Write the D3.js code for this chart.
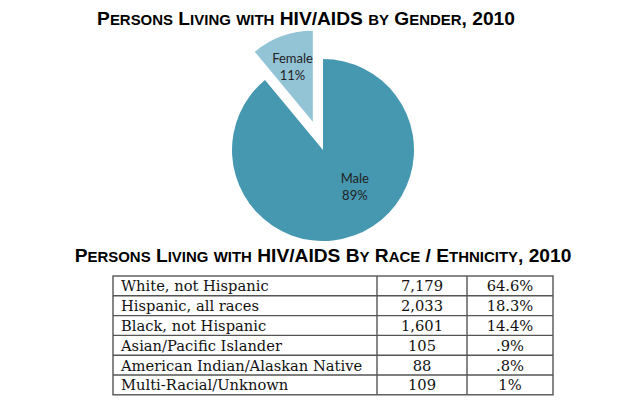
<!DOCTYPE html>
<html>
<head>
<meta charset="utf-8">
<script src="https://cdn.jsdelivr.net/npm/d3@7"></script>
<style>
  body { margin: 0; background: #fff; }
  svg { display: block; }
</style>
</head>
<body>
<div class="chart"></div>
<script>
var svgWidth = 630;
var svgHeight = 410;

// gender pie data
var genders = ["Male", "Female"];
var genderShares = [89, 11];

// race / ethnicity table data
var races = [
  "White, not Hispanic",
  "Hispanic, all races",
  "Black, not Hispanic",
  "Asian/Pacific Islander",
  "American Indian/Alaskan Native",
  "Multi-Racial/Unknown"
];
var raceCounts = ["7,179", "2,033", "1,601", "105", "88", "109"];
var racePercents = ["64.6%", "18.3%", "14.4%", ".9%", ".8%", "1%"];

var svg = d3.select(".chart")
  .append("svg")
  .attr("width", svgWidth)
  .attr("height", svgHeight);

// title with fake small caps: capitals full size, lowercase shrunk,
// then the whole thing scaled so it fills the wanted width
function smallCapsTitle(x, y, str, size, targetWidth) {
  var t = svg.append("text")
    .attr("x", x)
    .attr("y", y)
    .attr("text-anchor", "middle")
    .style("font-family", "'Liberation Sans', Arial, sans-serif")
    .style("font-weight", "bold")
    .style("fill", "#000");
  var parts = str.match(/([a-z]+|[^a-z]+)/g);
  parts.forEach(function(p) {
    var lower = /^[a-z]/.test(p);
    t.append("tspan")
      .attr("class", lower ? "sc" : "cap")
      .style("font-size", (lower ? size * 0.78 : size) + "px")
      .text(p.toUpperCase());
  });
  var w = t.node().getComputedTextLength();
  var k = targetWidth / w;
  t.selectAll("tspan.cap").style("font-size", (size * k) + "px");
  t.selectAll("tspan.sc").style("font-size", (size * 0.78 * k) + "px");
  return t;
}

smallCapsTitle(306, 25, "Persons Living with HIV/AIDS by Gender, 2010", 19, 418);
smallCapsTitle(323, 262, "Persons Living with HIV/AIDS By Race / Ethnicity, 2010", 20, 497);

// pie
var cx = 323, cy = 150, radius = 91;
var colors = d3.scaleOrdinal().domain(genders).range(["#4598b0", "#93c4d6"]);

var pie = d3.pie()
  .sort(null)
  .startAngle(0)
  .endAngle(2 * Math.PI)
  .value(function(d, i) { return genderShares[i]; });

var arcs = pie(genders);

var arc = d3.arc().innerRadius(0).outerRadius(radius);
var explode = { Female: 30, Male: 0 };
var labelRadius = { Female: 60, Male: 48 };
var labelAngleShift = { Female: 0, Male: -0.38 };

var pieGroup = svg.append("g")
  .attr("transform", `translate(${cx}, ${cy})`);

var slices = pieGroup.selectAll("g.slice")
  .data(arcs)
  .enter()
  .append("g")
  .attr("class", "slice")
  .attr("transform", function(d) {
    var mid = (d.startAngle + d.endAngle) / 2;
    var off = explode[d.data];
    return `translate(${off * Math.sin(mid)}, ${-off * Math.cos(mid)})`;
  });

slices.append("path")
  .attr("d", arc)
  .attr("fill", function(d) { return colors(d.data); });

var labels = slices.append("text")
  .attr("text-anchor", "middle")
  .style("font-family", "Lato, 'Open Sans', sans-serif")
  .style("font-size", "13px")
  .style("fill", "#222")
  .attr("transform", function(d) {
    var mid = (d.startAngle + d.endAngle) / 2 + labelAngleShift[d.data];
    var r = labelRadius[d.data];
    return `translate(${r * Math.sin(mid)}, ${-r * Math.cos(mid)})`;
  });

labels.append("tspan")
  .attr("x", 0)
  .attr("dy", "-0.2em")
  .text(function(d) { return d.data; });

labels.append("tspan")
  .attr("x", 0)
  .attr("dy", "1.3em")
  .text(function(d, i) { return genderShares[i] + "%"; });

// table
var tableTop = 276;
var colEdges = [113, 377, 467, 553];
var rowHeight = 19.8;

var y = d3.scaleBand()
  .domain(races)
  .range([tableTop, tableTop + rowHeight * races.length]);

var table = svg.append("g");
var lineColor = "#555";

table.append("rect")
  .attr("x", colEdges[0])
  .attr("y", tableTop)
  .attr("width", colEdges[3] - colEdges[0])
  .attr("height", y.range()[1] - tableTop)
  .attr("fill", "none")
  .attr("stroke", lineColor)
  .attr("stroke-width", 1.4);

table.selectAll("line.row")
  .data(races.slice(1))
  .enter()
  .append("line")
  .attr("x1", colEdges[0])
  .attr("x2", colEdges[3])
  .attr("y1", function(d) { return y(d); })
  .attr("y2", function(d) { return y(d); })
  .attr("stroke", lineColor)
  .attr("stroke-width", 1.4);

table.selectAll("line.col")
  .data([colEdges[1], colEdges[2]])
  .enter()
  .append("line")
  .attr("x1", function(d) { return d; })
  .attr("x2", function(d) { return d; })
  .attr("y1", tableTop)
  .attr("y2", y.range()[1])
  .attr("stroke", lineColor)
  .attr("stroke-width", 1.4);

var cellFont = "'DejaVu Serif', 'Liberation Serif', serif";

function cellText(values, x, anchor) {
  table.selectAll(null)
    .data(races)
    .enter()
    .append("text")
    .attr("x", x)
    .attr("y", function(d) { return y(d) + y.bandwidth() - 4.5; })
    .attr("text-anchor", anchor)
    .style("font-family", cellFont)
    .style("font-size", "14.7px")
    .style("fill", "#111")
    .text(function(d, i) { return values[i]; });
}

cellText(races, colEdges[0] + 8, "start");
cellText(raceCounts, (colEdges[1] + colEdges[2]) / 2, "middle");
cellText(racePercents, (colEdges[2] + colEdges[3]) / 2, "middle");
</script>
</body>
</html>
